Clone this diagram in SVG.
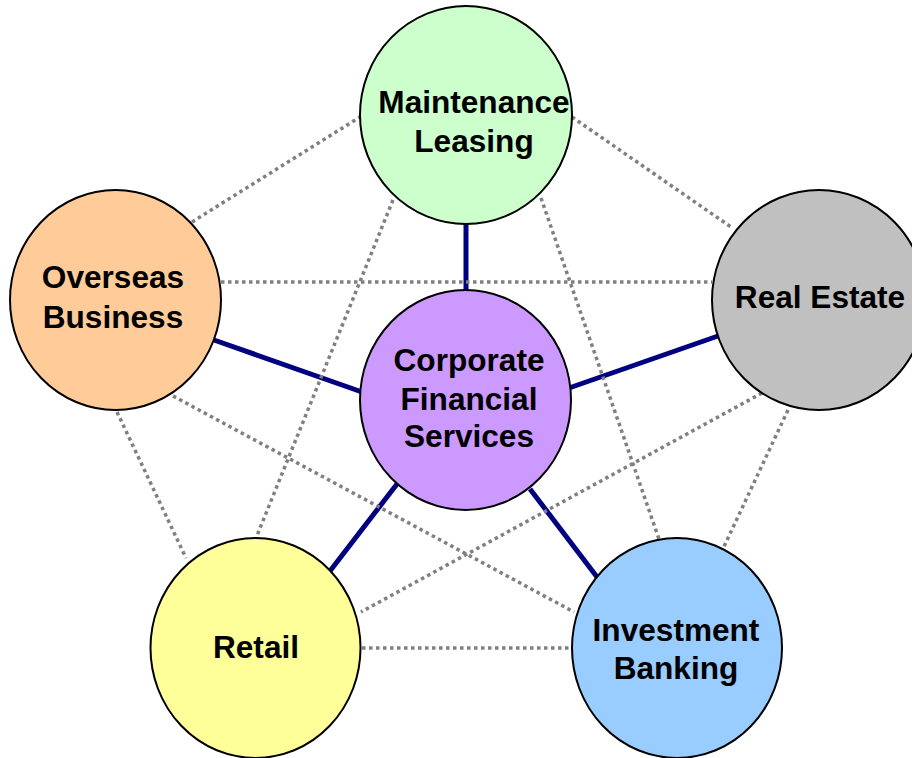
<svg xmlns="http://www.w3.org/2000/svg" width="912" height="758" viewBox="0 0 912 758">
<style>
.node{stroke:#000;stroke-width:2}
.lbl{font-family:"Liberation Sans",Arial,sans-serif;font-weight:bold;font-size:31.6px;fill:#000;text-anchor:middle}
.solid{stroke:#000080;stroke-width:5;fill:none}
.dot{stroke:#808080;stroke-width:3.5;stroke-dasharray:3.5 3.5;fill:none}
</style>
<rect width="912" height="758" fill="#fff"/>
<g id="connectors">
<line class="solid" x1="466" y1="222" x2="466" y2="292"/>
<line class="solid" x1="214" y1="340" x2="362" y2="392"/>
<line class="solid" x1="718" y1="336" x2="569" y2="388"/>
<line class="solid" x1="330" y1="571" x2="397" y2="484"/>
<line class="solid" x1="530" y1="489" x2="597" y2="577"/>
<line class="dot" x1="192" y1="222" x2="360" y2="117"/>
<line class="dot" x1="572" y1="117" x2="731" y2="227"/>
<line class="dot" x1="221" y1="282" x2="712" y2="282"/>
<line class="dot" x1="393" y1="200" x2="256" y2="538"/>
<line class="dot" x1="541" y1="198" x2="660" y2="542"/>
<line class="dot" x1="173" y1="396" x2="574" y2="612"/>
<line class="dot" x1="117" y1="412" x2="186" y2="558"/>
<line class="dot" x1="762" y1="393" x2="361" y2="612"/>
<line class="dot" x1="788" y1="410" x2="721" y2="553"/>
<line class="dot" x1="362" y1="648" x2="572" y2="648"/>
</g>
<g id="maintenance-leasing">
<ellipse class="node" cx="466" cy="115" rx="106" ry="109" fill="#CCFFCC"/>
<text class="lbl" x="474" y="113">Maintenance</text>
<text class="lbl" x="474" y="152">Leasing</text>
</g>
<g id="overseas-business">
<ellipse class="node" cx="115.5" cy="300" rx="105.5" ry="110" fill="#FFCC99"/>
<text class="lbl" x="113" y="288">Overseas</text>
<text class="lbl" x="113" y="328">Business</text>
</g>
<g id="real-estate">
<ellipse class="node" cx="819" cy="300" rx="107" ry="110" fill="#C0C0C0"/>
<text class="lbl" x="820" y="308">Real Estate</text>
</g>
<g id="corporate-financial-services">
<ellipse class="node" cx="465.5" cy="400" rx="105.5" ry="110" fill="#CC99FF"/>
<text class="lbl" x="469" y="371">Corporate</text>
<text class="lbl" x="469" y="410">Financial</text>
<text class="lbl" x="469" y="447">Services</text>
</g>
<g id="retail">
<ellipse class="node" cx="255.5" cy="648" rx="105" ry="110" fill="#FFFF99"/>
<text class="lbl" x="256" y="658">Retail</text>
</g>
<g id="investment-banking">
<ellipse class="node" cx="677" cy="648" rx="105" ry="110" fill="#99CCFF"/>
<text class="lbl" x="676" y="641">Investment</text>
<text class="lbl" x="676" y="679">Banking</text>
</g>
</svg>
